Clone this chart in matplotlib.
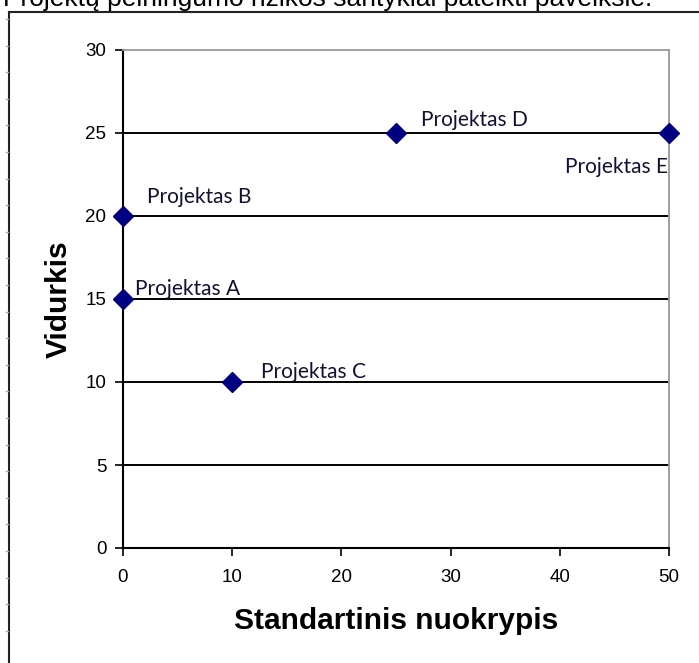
import matplotlib
matplotlib.use("Agg")
import matplotlib.pyplot as plt
from matplotlib.lines import Line2D

# Data
projects = ["Projektas A", "Projektas B", "Projektas C", "Projektas D", "Projektas E"]
std_dev = [0, 0, 10, 25, 50]
mean = [15, 20, 10, 25, 25]
x_ticks = [0, 10, 20, 30, 40, 50]
y_ticks = [0, 5, 10, 15, 20, 25, 30]
heading = "Projektų pelningumo rizikos santykiai pateikti paveiksle."
x_label = "Standartinis nuokrypis"
y_label = "Vidurkis"

W, H = 699, 663
fig = plt.figure(figsize=(W / 100, H / 100), dpi=100)
fig.patch.set_facecolor("white")

# frame around the chart
fig.add_artist(Line2D([9 / W, 9 / W], [0, 1 - 12 / H], transform=fig.transFigure,
                      color="#222222", lw=1.5))
fig.add_artist(Line2D([9 / W, 1], [1 - 12 / H, 1 - 12 / H], transform=fig.transFigure,
                      color="#222222", lw=1.5))
# ruler marks
for k in range(1, 25):
    yy = 19 + (k - 1) * 26.6
    if yy > H:
        break
    fig.add_artist(Line2D([6 / W, 8 / W], [1 - yy / H, 1 - yy / H], transform=fig.transFigure,
                          color="#aaaaaa", lw=1))

# heading (cut at top, as in the reference)
fig.text(3 / W, 1 - 6 / H, heading, fontsize=19, family="Liberation Sans",
         va="baseline", ha="left", color="black")

ax = fig.add_axes([123 / W, 1 - 548 / H, (669 - 123) / W, (548 - 50) / H])
ax.set_xlim(0, 50)
ax.set_ylim(0, 30)
ax.set_xticks(x_ticks)
ax.set_yticks(y_ticks)

tick_font = dict(family="Liberation Sans", size=13.5)
ax.set_xticklabels([str(v) for v in x_ticks], **tick_font)
ax.set_yticklabels([str(v) for v in y_ticks], **tick_font)
ax.tick_params(axis="both", direction="out", length=6, width=1.2, color="black")
ax.tick_params(axis="x", pad=9)
ax.tick_params(axis="y", pad=6)

for s in ["left", "bottom"]:
    ax.spines[s].set_color("black")
    ax.spines[s].set_linewidth(1.5)
for s in ["top", "right"]:
    ax.spines[s].set_color("#999999")
    ax.spines[s].set_linewidth(1.3)

for yv in y_ticks[1:-1]:
    ax.axhline(yv, color="black", lw=1.4, zorder=1)

ax.plot(std_dev, mean, linestyle="none", marker="D", markersize=10.5,
        color="#000080", zorder=5, clip_on=False)

offsets = {
    "Projektas A": (12, 10, "left"),
    "Projektas B": (24, 19, "left"),
    "Projektas C": (29, 10, "left"),
    "Projektas D": (25, 13, "left"),
    "Projektas E": (-1, -34, "right"),
}
for name, xv, yv in zip(projects, std_dev, mean):
    dx, dy, ha = offsets[name]
    ax.annotate(name, (xv, yv), xytext=(dx, dy), textcoords="offset pixels",
                ha=ha, va="center", fontsize=15, family="Lato", color="#111133",
                zorder=6)

ax.set_xlabel(x_label, fontsize=21.5, fontweight="bold", family="Liberation Sans", labelpad=15)
ax.set_ylabel(y_label, fontsize=21.5, fontweight="bold", family="Liberation Sans", labelpad=9)

fig.savefig("out.png", dpi=100)
